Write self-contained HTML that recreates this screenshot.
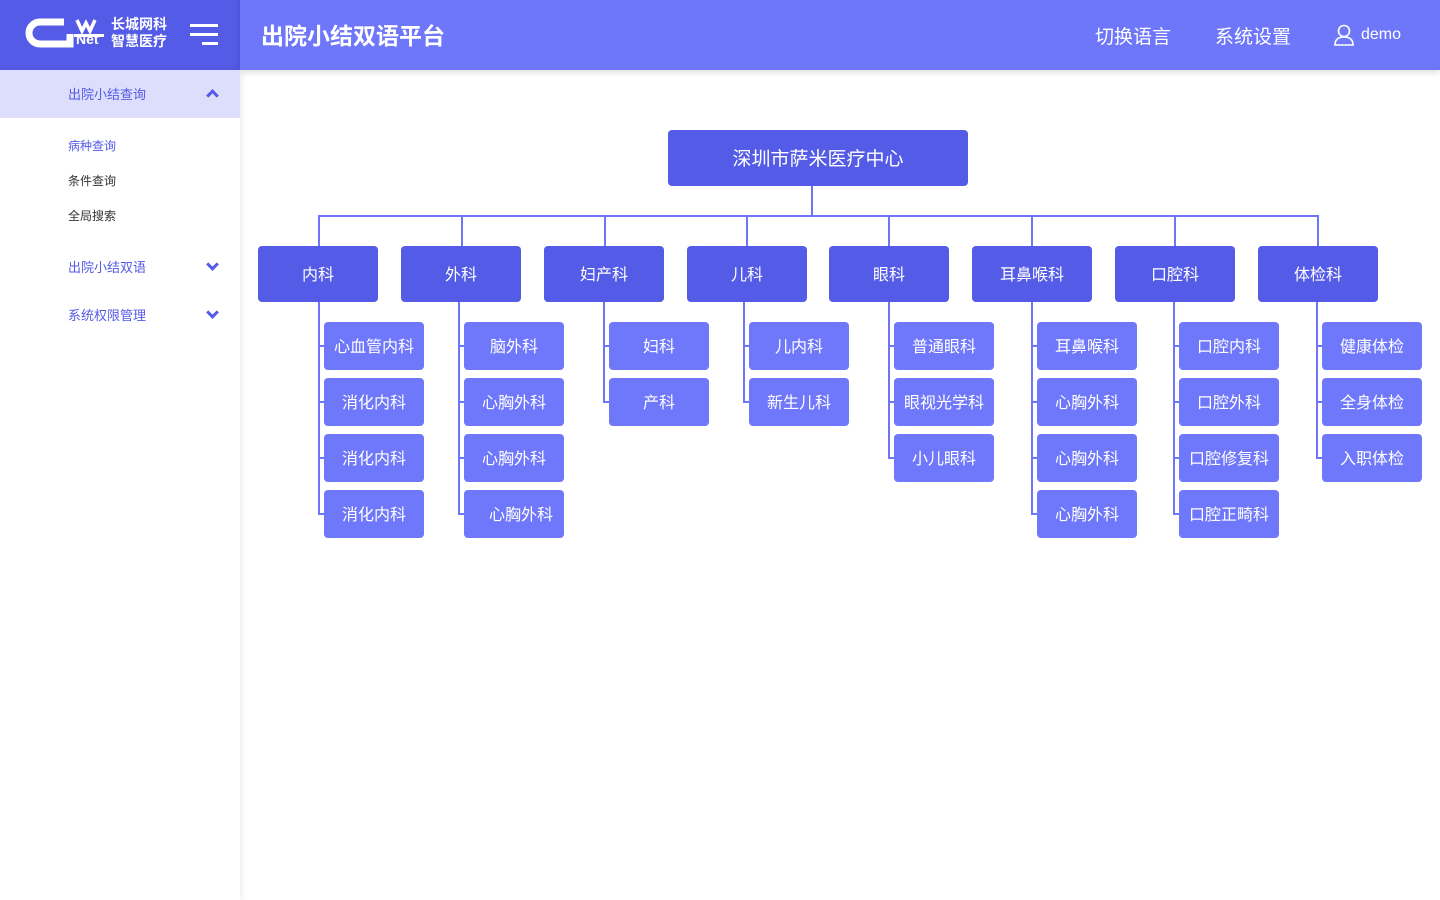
<!DOCTYPE html>
<html><head><meta charset="utf-8">
<style>
*{margin:0;padding:0;box-sizing:border-box}
body{width:1440px;height:900px;position:relative;background:#fff;font-family:"Liberation Sans","Noto Sans CJK SC",sans-serif;overflow:hidden}
.a{position:absolute}
.hl{left:0;top:0;width:240px;height:70px;background:#545be6}
.hr{left:240px;top:0;width:1200px;height:70px;background:#6e76fa;box-shadow:0 2px 6px rgba(0,0,0,.15)}
.side{left:0;top:70px;width:240px;height:830px;background:#fff;box-shadow:2px 0 6px rgba(0,0,0,.08)}
.dep{width:120px;height:56px;background:#545be6;color:#fff;border-radius:4px;font-size:16px;display:flex;align-items:center;justify-content:center;padding-bottom:2px}
.ch{width:100px;height:48px;background:#6f77fb;color:#fff;border-radius:4px;font-size:16px;display:flex;align-items:center;justify-content:center;padding-bottom:2px}
.ln{background:#6e76f8}
.chev{width:9px;height:9px;border-right:3px solid #545be6;border-bottom:3px solid #545be6}
</style></head><body>
<div class="a hl"></div>
<div class="a hr"></div>
<!-- logo -->
<svg class="a" style="left:24px;top:17px" width="82" height="34"><path d="M40 5 H16 A11 11 0 0 0 16 27 H46 V17" stroke="#fff" stroke-width="7" fill="none"/><path d="M53 3 l5 11 l4-8 l4 8 l5-11" stroke="#fff" stroke-width="3.5" fill="none"/><rect x="50" y="17" width="30" height="3" fill="#fff"/></svg>
<div class="a" style="left:76px;top:31px;color:#fff;font-weight:bold;font-size:14px">Net</div>
<div class="a" style="left:111px;top:16px;color:#fff;font-weight:bold;font-size:14px;line-height:17px">长城网科<br>智慧医疗</div>
<div class="a" style="left:190px;top:24px;width:28px;height:3px;background:#fff"></div>
<div class="a" style="left:190px;top:33px;width:28px;height:3px;background:#fff"></div>
<div class="a" style="left:202px;top:42px;width:16px;height:3px;background:#fff"></div>
<div class="a" style="left:261px;top:17px;color:#fff;font-weight:bold;font-size:23px">出院小结双语平台</div>
<div class="a" style="left:1095px;top:22px;color:#fff;font-size:19px">切换语言</div>
<div class="a" style="left:1215px;top:22px;color:#fff;font-size:19px">系统设置</div>
<svg class="a" style="left:1334px;top:24px" width="20" height="22"><circle cx="10" cy="7" r="5.5" stroke="#fff" stroke-width="1.6" fill="none"/><path d="M1 21 Q1 13 10 13 Q19 13 19 21 Z" stroke="#fff" stroke-width="1.6" fill="none"/></svg>
<div class="a" style="left:1361px;top:26px;color:#fff;font-size:16px">demo</div>

<div class="a side"></div>
<div class="a" style="left:0;top:70px;width:240px;height:48px;background:#dcdefc"></div>
<div class="a" style="left:68px;top:84px;color:#545be6;font-size:13px">出院小结查询</div>
<div class="a chev" style="left:208px;top:91px;transform:rotate(-135deg)"></div>
<div class="a" style="left:68px;top:137px;color:#545be6;font-size:12px">病种查询</div>
<div class="a" style="left:68px;top:172px;color:#333;font-size:12px">条件查询</div>
<div class="a" style="left:68px;top:207px;color:#333;font-size:12px">全局搜索</div>
<div class="a" style="left:68px;top:257px;color:#545be6;font-size:13px">出院小结双语</div>
<div class="a chev" style="left:208px;top:260px;transform:rotate(45deg)"></div>
<div class="a" style="left:68px;top:305px;color:#545be6;font-size:13px">系统权限管理</div>
<div class="a chev" style="left:208px;top:308px;transform:rotate(45deg)"></div>

<!-- root -->
<div class="a dep" style="left:668px;top:130px;width:300px;height:56px;font-size:19px">深圳市萨米医疗中心</div>
<div class="a ln" style="left:811px;top:186px;width:2px;height:30px"></div>
<div class="a ln" style="left:318px;top:215px;width:1001px;height:2px"></div>

<div class="a ln" style="left:318px;top:216px;width:2px;height:30px"></div>
<div class="a ln" style="left:461px;top:216px;width:2px;height:30px"></div>
<div class="a ln" style="left:604px;top:216px;width:2px;height:30px"></div>
<div class="a ln" style="left:746px;top:216px;width:2px;height:30px"></div>
<div class="a ln" style="left:888px;top:216px;width:2px;height:30px"></div>
<div class="a ln" style="left:1031px;top:216px;width:2px;height:30px"></div>
<div class="a ln" style="left:1174px;top:216px;width:2px;height:30px"></div>
<div class="a ln" style="left:1317px;top:216px;width:2px;height:30px"></div>

<div class="a dep" style="left:258px;top:246px">内科</div>
<div class="a dep" style="left:401px;top:246px">外科</div>
<div class="a dep" style="left:544px;top:246px">妇产科</div>
<div class="a dep" style="left:687px;top:246px">儿科</div>
<div class="a dep" style="left:829px;top:246px">眼科</div>
<div class="a dep" style="left:972px;top:246px">耳鼻喉科</div>
<div class="a dep" style="left:1115px;top:246px">口腔科</div>
<div class="a dep" style="left:1258px;top:246px">体检科</div>

<div class="a ln" style="left:318px;top:302px;width:2px;height:213px"></div>
<div class="a ln" style="left:458px;top:302px;width:2px;height:213px"></div>
<div class="a ln" style="left:603px;top:302px;width:2px;height:101px"></div>
<div class="a ln" style="left:743px;top:302px;width:2px;height:101px"></div>
<div class="a ln" style="left:888px;top:302px;width:2px;height:157px"></div>
<div class="a ln" style="left:1031px;top:302px;width:2px;height:213px"></div>
<div class="a ln" style="left:1173px;top:302px;width:2px;height:213px"></div>
<div class="a ln" style="left:1316px;top:302px;width:2px;height:157px"></div>

<div class="a ln" style="left:318px;top:345px;width:6px;height:2px"></div><div class="a ln" style="left:318px;top:401px;width:6px;height:2px"></div><div class="a ln" style="left:318px;top:457px;width:6px;height:2px"></div><div class="a ln" style="left:318px;top:513px;width:6px;height:2px"></div>
<div class="a ln" style="left:458px;top:345px;width:6px;height:2px"></div><div class="a ln" style="left:458px;top:401px;width:6px;height:2px"></div><div class="a ln" style="left:458px;top:457px;width:6px;height:2px"></div><div class="a ln" style="left:458px;top:513px;width:6px;height:2px"></div>
<div class="a ln" style="left:603px;top:345px;width:6px;height:2px"></div><div class="a ln" style="left:603px;top:401px;width:6px;height:2px"></div>
<div class="a ln" style="left:743px;top:345px;width:6px;height:2px"></div><div class="a ln" style="left:743px;top:401px;width:6px;height:2px"></div>
<div class="a ln" style="left:888px;top:345px;width:6px;height:2px"></div><div class="a ln" style="left:888px;top:401px;width:6px;height:2px"></div><div class="a ln" style="left:888px;top:457px;width:6px;height:2px"></div>
<div class="a ln" style="left:1031px;top:345px;width:6px;height:2px"></div><div class="a ln" style="left:1031px;top:401px;width:6px;height:2px"></div><div class="a ln" style="left:1031px;top:457px;width:6px;height:2px"></div><div class="a ln" style="left:1031px;top:513px;width:6px;height:2px"></div>
<div class="a ln" style="left:1173px;top:345px;width:6px;height:2px"></div><div class="a ln" style="left:1173px;top:401px;width:6px;height:2px"></div><div class="a ln" style="left:1173px;top:457px;width:6px;height:2px"></div><div class="a ln" style="left:1173px;top:513px;width:6px;height:2px"></div>
<div class="a ln" style="left:1316px;top:345px;width:6px;height:2px"></div><div class="a ln" style="left:1316px;top:401px;width:6px;height:2px"></div><div class="a ln" style="left:1316px;top:457px;width:6px;height:2px"></div>

<div class="a ch" style="left:324px;top:322px">心血管内科</div>
<div class="a ch" style="left:324px;top:378px">消化内科</div>
<div class="a ch" style="left:324px;top:434px">消化内科</div>
<div class="a ch" style="left:324px;top:490px">消化内科</div>

<div class="a ch" style="left:464px;top:322px">脑外科</div>
<div class="a ch" style="left:464px;top:378px">心胸外科</div>
<div class="a ch" style="left:464px;top:434px">心胸外科</div>
<div class="a ch" style="left:464px;top:490px;padding-left:14px">心胸外科</div>

<div class="a ch" style="left:609px;top:322px">妇科</div>
<div class="a ch" style="left:609px;top:378px">产科</div>

<div class="a ch" style="left:749px;top:322px">儿内科</div>
<div class="a ch" style="left:749px;top:378px">新生儿科</div>

<div class="a ch" style="left:894px;top:322px">普通眼科</div>
<div class="a ch" style="left:894px;top:378px">眼视光学科</div>
<div class="a ch" style="left:894px;top:434px">小儿眼科</div>

<div class="a ch" style="left:1037px;top:322px">耳鼻喉科</div>
<div class="a ch" style="left:1037px;top:378px">心胸外科</div>
<div class="a ch" style="left:1037px;top:434px">心胸外科</div>
<div class="a ch" style="left:1037px;top:490px">心胸外科</div>

<div class="a ch" style="left:1179px;top:322px">口腔内科</div>
<div class="a ch" style="left:1179px;top:378px">口腔外科</div>
<div class="a ch" style="left:1179px;top:434px">口腔修复科</div>
<div class="a ch" style="left:1179px;top:490px">口腔正畸科</div>

<div class="a ch" style="left:1322px;top:322px">健康体检</div>
<div class="a ch" style="left:1322px;top:378px">全身体检</div>
<div class="a ch" style="left:1322px;top:434px">入职体检</div>
</body></html>
